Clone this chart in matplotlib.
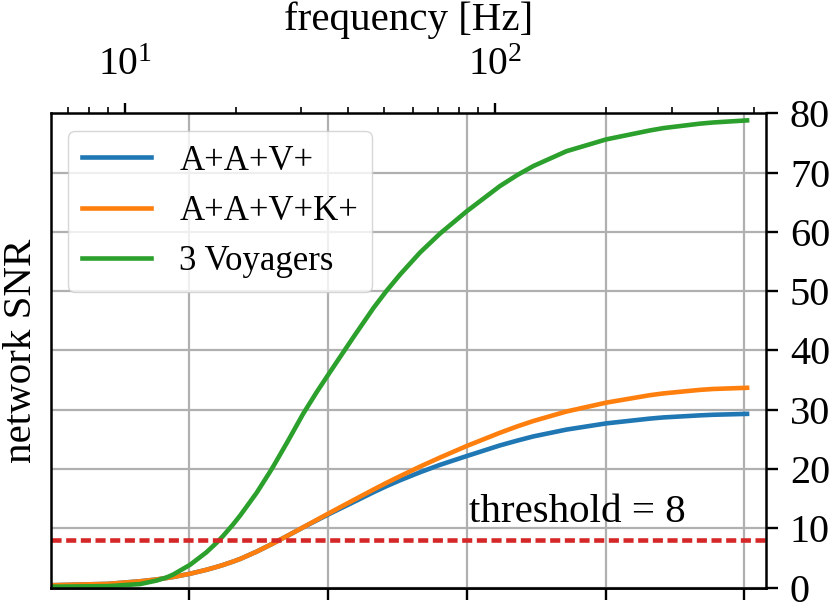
import numpy as np
import matplotlib
matplotlib.use('Agg')
import matplotlib.pyplot as plt
from matplotlib.ticker import NullLocator

plt.rcParams['font.family'] = ['Liberation Serif', 'DejaVu Serif']
plt.rcParams['mathtext.fontset'] = 'stix'
plt.rcParams['font.size'] = 29.5

# Datos (frecuencia en Hz, SNR de red)
frecuencia = [6.3, 9.0, 11.0, 12.2, 13.0, 13.5, 15.0, 16.6, 17.7, 18.4, 19.6, 20.5,
              22.7, 24.7, 25.2, 27.5, 30.3, 33.0, 35.6, 41.4, 47.0, 51.0, 55.4, 62.7,
              71.0, 84.0, 103, 115, 127, 156, 200, 262, 285, 358, 389, 480]
snr_aav = [0.4, 0.63, 1.07, 1.38, 1.63, 1.79, 2.34, 3.0, 3.49, 3.81, 4.39, 4.84,
           6.07, 7.21, 7.49, 8.74, 10.15, 11.35, 12.4, 14.4, 16.1, 17.13, 18.1, 19.45,
           20.7, 22.2, 23.97, 24.8, 25.5, 26.65, 27.7, 28.5, 28.7, 29.05, 29.15, 29.3]
snr_aavk = [0.4, 0.63, 1.07, 1.38, 1.63, 1.79, 2.34, 3.0, 3.49, 3.81, 4.39, 4.84,
            6.07, 7.21, 7.49, 8.74, 10.17, 11.43, 12.55, 14.73, 16.55, 17.69, 18.8, 20.4,
            21.93, 23.9, 26.1, 27.2, 28.1, 29.7, 31.2, 32.45, 32.75, 33.35, 33.5, 33.7]
snr_voyager = [0.15, 0.25, 0.6, 1.2, 1.75, 2.2, 3.85, 5.95, 7.58, 8.68, 10.66, 12.19,
               16.0, 19.6, 20.5, 24.6, 29.3, 33.0, 36.1, 42.2, 47.2, 50.1, 52.8, 56.5,
               59.7, 63.5, 67.7, 69.6, 71.1, 73.6, 75.6, 77.1, 77.5, 78.25, 78.45, 78.8]
etiquetas = ['A+A+V+', 'A+A+V+K+', '3 Voyagers']
umbral = 8

# Eje inferior: tiempo hasta la fusion (f ~ tau^-3/8)
F_REF = 471.8
TAU_REF = 0.1
tau_ticks = [1e4, 1e3, 1e2, 1e1, 1e0, 1e-1]


def f_a_tau(f):
    f = np.asarray(f, dtype=float)
    return TAU_REF * (f / F_REF) ** (-8.0 / 3.0)


def tau_a_f(t):
    t = np.asarray(t, dtype=float)
    return F_REF * (t / TAU_REF) ** (-3.0 / 8.0)


fig = plt.figure(figsize=(8.31, 6.11), dpi=100)
ax = fig.add_axes([0.0610, 0.0383, 0.8604, 0.7763])

gris = '#b0b0b0'
ax.grid(axis='y', color=gris, lw=1.6)
for t in tau_ticks:
    ax.axvline(float(tau_a_f(t)), color=gris, lw=1.6, zorder=1.5)

lw = 3.3
ax.plot(frecuencia, snr_aav, color='tab:blue', lw=lw, label=etiquetas[0])
ax.plot(frecuencia, snr_aavk, color='tab:orange', lw=lw, label=etiquetas[1])
ax.plot(frecuencia, snr_voyager, color='tab:green', lw=lw, label=etiquetas[2])
ax.axhline(umbral, color='tab:red', lw=lw, ls=(0, (2.2, 1.0)))
ax.text(85, 11.1, 'threshold = %d' % umbral, ha='left', va='baseline')

ax.set_xscale('log')
ax.set_xlim(6.3, 539)
ax.set_ylim(0, 80)
ax.set_yticks(range(0, 81, 10))

# eje superior con la frecuencia
ax.xaxis.tick_top()
ax.xaxis.set_label_position('top')
ax.set_xlabel('frequency [Hz]', labelpad=12.5)
ax.tick_params(axis='x', which='major', direction='out', length=7.5, width=1.7,
               pad=13.5, labelsize=28.5)
ax.tick_params(axis='x', which='minor', direction='out', length=4.3, width=1.2)

# eje derecho con el SNR, etiqueta a la izquierda
ax.yaxis.tick_right()
ax.yaxis.set_label_position('left')
ax.set_ylabel('network SNR', labelpad=8)
ax.tick_params(axis='y', direction='out', length=8.5, width=1.7, pad=9, labelsize=29)

for s in ax.spines.values():
    s.set_linewidth(1.8)

# ticks del tiempo (sin etiquetas, quedan fuera del recorte)
sec = ax.secondary_xaxis('bottom', functions=(f_a_tau, tau_a_f))
sec.set_ticks(tau_ticks)
sec.xaxis.set_minor_locator(NullLocator())
sec.tick_params(axis='x', which='major', direction='out', length=8.5, width=1.7,
                labelbottom=False)
sec.spines['bottom'].set_linewidth(1.8)

ax.legend(loc='upper left', fontsize=25)

fig.savefig('out.png', dpi=100)
